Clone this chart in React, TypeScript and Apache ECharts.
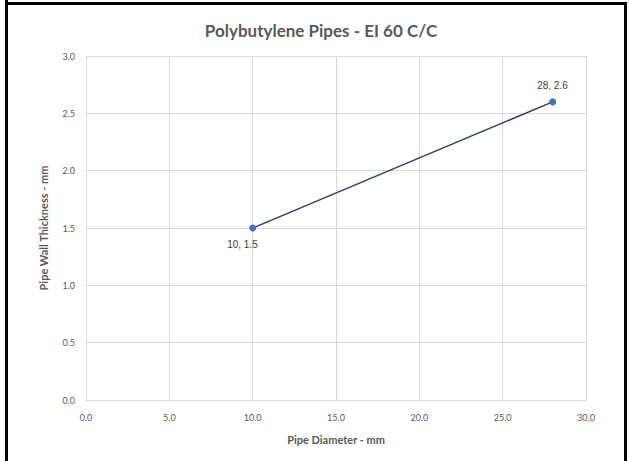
import React, { useEffect, useRef } from "react";
import * as echarts from "echarts";

const diameters = [10, 28];
const thicknesses = [1.5, 2.6];
const pointLabels = ["10, 1.5", "28, 2.6"];
const labelSides = ["bottom", "top"];
const titleText = "Polybutylene Pipes - EI 60 C/C";
const xName = "Pipe Diameter - mm";
const yName = "Pipe Wall Thickness - mm";

export default function App() {
  const ref = useRef<HTMLDivElement>(null);
  useEffect(() => {
    document.body.style.margin = "0";
    const chart = echarts.init(ref.current!, null, { renderer: "svg" });
    const data = diameters.map((d, i) => ({
      value: [d, thicknesses[i]],
      label: {
        show: true,
        formatter: pointLabels[i],
        fontFamily: "Arial, 'Liberation Sans', sans-serif",
        fontSize: 10,
        color: "#404040",
        position: labelSides[i] === "bottom" ? [-22, 15] : [-12, -18],
      },
    }));
    chart.setOption({
      animation: false,
      backgroundColor: "#ffffff",
      title: {
        text: titleText,
        left: 316,
        textAlign: "center",
        top: 17,
        textStyle: { fontFamily: "Lato", fontWeight: "bold", fontSize: 17, color: "#595959" },
      },
      grid: { left: 86, right: 43, top: 56, bottom: 61 },
      xAxis: {
        type: "value",
        min: 0,
        max: 30,
        interval: 5,
        name: xName,
        nameLocation: "middle",
        nameGap: 34,
        nameTextStyle: { fontFamily: "Lato", fontWeight: "bold", fontSize: 11, color: "#595959" },
        axisLine: { show: true, lineStyle: { color: "#d9d9d9" } },
        axisTick: { show: false },
        splitLine: { show: true, lineStyle: { color: "#d9d9d9" } },
        axisLabel: {
          formatter: (v: number) => v.toFixed(1),
          fontFamily: "Lato",
          fontSize: 9,
          color: "#595959",
          margin: 13,
        },
      },
      yAxis: {
        type: "value",
        min: 0,
        max: 3,
        interval: 0.5,
        name: yName,
        nameLocation: "middle",
        nameGap: 37,
        nameTextStyle: { fontFamily: "Lato", fontWeight: "bold", fontSize: 11, color: "#595959" },
        axisLine: { show: true, lineStyle: { color: "#d9d9d9" } },
        axisTick: { show: false },
        splitLine: { show: true, lineStyle: { color: "#d9d9d9" } },
        axisLabel: {
          formatter: (v: number) => v.toFixed(1),
          fontFamily: "Lato",
          fontSize: 9,
          color: "#595959",
          margin: 11,
        },
      },
      series: [
        {
          type: "line",
          data,
          symbol: "circle",
          symbolSize: 7,
          itemStyle: { color: "#4472C4" },
          lineStyle: { color: "#2E3F66", width: 1.5 },
        },
      ],
      graphic: [
        { type: "rect", shape: { x: 5, y: 0, width: 3, height: 461 }, style: { fill: "#000" } },
        { type: "rect", shape: { x: 5, y: 2, width: 622, height: 3 }, style: { fill: "#000" } },
        { type: "rect", shape: { x: 624, y: 2, width: 3, height: 459 }, style: { fill: "#000" } },
      ],
    });
    return () => chart.dispose();
  }, []);
  return <div ref={ref} style={{ width: 629, height: 461 }} />;
}
